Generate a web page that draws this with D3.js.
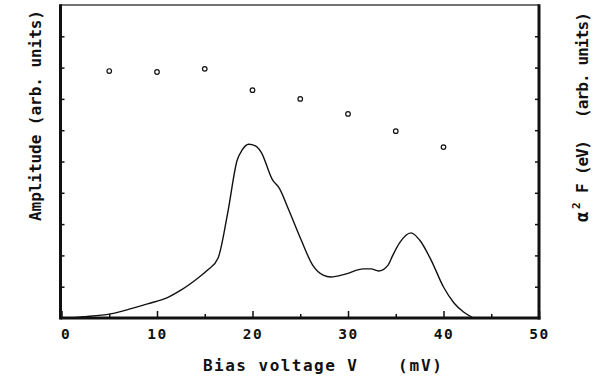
<!DOCTYPE html>
<html>
<head>
<meta charset="utf-8">
<script src="https://cdn.jsdelivr.net/npm/d3@7"></script>
<style>
  html, body { margin: 0; padding: 0; background: #fff; }
  svg text { font-family: "DejaVu Sans Mono", monospace; font-weight: bold; fill: #111; }
</style>
</head>
<body>
<svg id="chart" width="597" height="377"></svg>
<script>
// Tunneling amplitude curve (arb. units) vs bias voltage (mV)
const curveV   = [1.0, 2.0, 5.1, 7.2, 9.0, 11.2, 12.5, 14.3, 15.3, 16.4, 17.4, 18.4, 18.9, 19.6, 20.3, 20.9, 22.1, 22.8, 23.8, 25.1, 26.3, 27.4, 28.2, 29.8, 31.6, 32.4, 33.2, 34.2, 34.7, 35.4, 36.6, 37.5, 38.7, 40.0, 41.1, 42.1, 43.0];
const curveAmp = [0.0, 0.03, 0.13, 0.29, 0.45, 0.67, 0.89, 1.28, 1.53, 1.92, 3.35, 5.05, 5.36, 5.55, 5.5, 5.3, 4.41, 4.15, 3.45, 2.49, 1.69, 1.37, 1.31, 1.41, 1.57, 1.57, 1.50, 1.69, 2.01, 2.40, 2.72, 2.49, 1.85, 0.99, 0.48, 0.19, 0.02];

// alpha^2 F points (open circles)
const pointV = [5, 10, 15, 20, 25, 30, 35, 40];
const pointA = [7.89, 7.86, 7.96, 7.28, 7.0, 6.52, 5.97, 5.46];

// Axis ticks
const xMajor = [0, 10, 20, 30, 40, 50];
const xMinor = [5, 15, 25, 35, 45];
const yTicks = [1, 2, 3, 4, 5, 6, 7, 8, 9];

const svg = d3.select('#chart');

// Plot frame
const frameL = 60.5, frameR = 539, frameT = 5, frameB = 318;

const x = d3.scaleLinear().domain([0, 50]).range([61.5, 539]);
const y = d3.scaleLinear().domain([0, 10]).range([frameB, frameT]);

// Axes with inward ticks
const gx = svg.append('g').attr('transform', `translate(0, ${frameB})`)
    .call(d3.axisBottom(x).tickValues(xMajor).tickSizeInner(-7).tickSizeOuter(0).tickPadding(11));
gx.selectAll('text').style('font-size', '14.5px').style('letter-spacing', '1.5px');
// the "0" label sits a little right of its tick in the original
gx.selectAll('text').filter(d => d === 0).attr('dx', 4);

svg.append('g').attr('transform', `translate(0, ${frameB})`)
    .call(d3.axisBottom(x).tickValues(xMinor).tickSizeInner(-4).tickSizeOuter(0).tickFormat(''));

svg.append('g').attr('transform', `translate(${frameL}, 0)`)
    .call(d3.axisLeft(y).tickValues(yTicks).tickSizeInner(-4).tickSizeOuter(0).tickFormat(''));

svg.append('g').attr('transform', `translate(${frameR}, 0)`)
    .call(d3.axisRight(y).tickValues(yTicks).tickSizeInner(-4).tickSizeOuter(0).tickFormat(''));

svg.selectAll('.domain').remove();
svg.selectAll('.tick line').attr('stroke', '#111').attr('stroke-width', 1.5);

// Frame lines
svg.append('line').attr('x1', frameL).attr('x2', frameR).attr('y1', frameT).attr('y2', frameT)
    .attr('stroke', '#444').attr('stroke-width', 1.5);
svg.append('line').attr('x1', frameL).attr('x2', frameL).attr('y1', frameT - 0.75).attr('y2', frameB + 1.5)
    .attr('stroke', '#111').attr('stroke-width', 3);
svg.append('line').attr('x1', frameR).attr('x2', frameR).attr('y1', frameT - 0.75).attr('y2', frameB + 1.5)
    .attr('stroke', '#111').attr('stroke-width', 3);
svg.append('line').attr('x1', frameL).attr('x2', frameR + 1.5).attr('y1', frameB).attr('y2', frameB)
    .attr('stroke', '#111').attr('stroke-width', 3);

// Amplitude curve
const line = d3.line()
    .x((d, i) => x(curveV[i]))
    .y((d, i) => y(curveAmp[i]))
    .curve(d3.curveMonotoneX);

svg.append('path')
    .datum(curveV)
    .attr('d', line)
    .attr('fill', 'none')
    .attr('stroke', '#111')
    .attr('stroke-width', 1.4);

// alpha^2F circles
svg.selectAll('circle.pt')
    .data(pointV)
    .enter()
    .append('circle')
        .attr('class', 'pt')
        .attr('cx', d => x(d))
        .attr('cy', (d, i) => y(pointA[i]))
        .attr('r', 2.3)
        .attr('fill', '#fff')
        .attr('stroke', '#111')
        .attr('stroke-width', 1.2);

// X axis title
svg.append('text').attr('x', 203).attr('y', 371)
    .attr('textLength', 154).attr('lengthAdjust', 'spacing')
    .style('font-size', '16px')
    .text('Bias voltage V');
svg.append('text').attr('x', 398).attr('y', 371)
    .attr('textLength', 44).attr('lengthAdjust', 'spacing')
    .style('font-size', '16px')
    .text('(mV)');

// Left title
svg.append('text')
    .attr('transform', 'translate(41, 221) rotate(-90)')
    .attr('textLength', 211).attr('lengthAdjust', 'spacing')
    .style('font-size', '16px')
    .text('Amplitude (arb. units)');

// Right title
const rt = svg.append('g').attr('transform', 'translate(588, 222) rotate(-90)');
rt.append('text').attr('x', 0).attr('y', 0).style('font-size', '17px').text('α');
rt.append('text').attr('x', 13).attr('y', -8).style('font-size', '11px').text('2');
rt.append('text').attr('x', 29).attr('y', 0).style('font-size', '16px').text('F');
rt.append('text').attr('x', 47).attr('y', 0)
    .attr('textLength', 35).attr('lengthAdjust', 'spacing')
    .style('font-size', '16px').text('(eV)');
rt.append('text').attr('x', 104).attr('y', 0)
    .attr('textLength', 106).attr('lengthAdjust', 'spacing')
    .style('font-size', '16px').text('(arb. units)');
</script>
</body>
</html>
